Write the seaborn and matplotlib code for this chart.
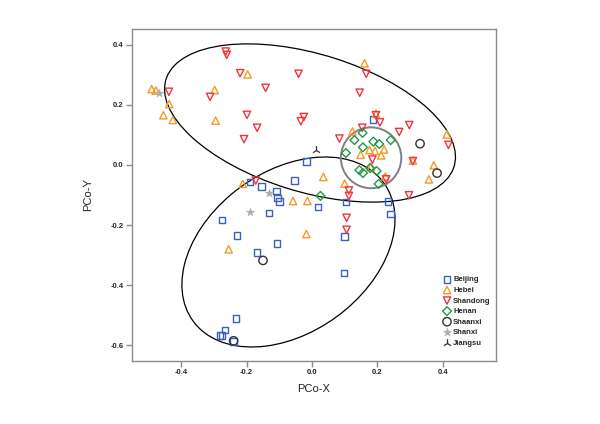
import matplotlib
matplotlib.use("Agg")
import matplotlib.pyplot as plt
from matplotlib.patches import Ellipse
import seaborn as sns


# PCo coordinates, one pair of lists per province
beijing_x = [0.187, -0.017, -0.054, 0.018, -0.190, -0.155, -0.108, -0.105, -0.099, -0.131,
             -0.276, -0.229, -0.107, -0.168, 0.104, 0.233, 0.240, 0.099, 0.098, -0.233,
             -0.267, -0.282, -0.275, -0.240]
beijing_y = [0.151, 0.012, -0.051, -0.140, -0.056, -0.071, -0.087, -0.110, -0.122, -0.160,
             -0.184, -0.235, -0.262, -0.291, -0.123, -0.122, -0.163, -0.238, -0.360, -0.512,
             -0.550, -0.569, -0.568, -0.588]

hebei_x = [-0.491, -0.478, -0.437, -0.455, -0.426, -0.298, -0.295, -0.197, 0.161, 0.196,
           0.124, 0.149, 0.176, 0.193, 0.221, 0.212, 0.180, 0.225, 0.413, 0.309,
           0.373, 0.358, 0.035, 0.100, -0.014, -0.058, -0.212, -0.017, -0.255]
hebei_y = [0.253, 0.248, 0.203, 0.166, 0.150, 0.250, 0.148, 0.302, 0.339, 0.170,
           0.112, 0.034, 0.050, 0.047, 0.052, 0.032, -0.007, -0.038, 0.102, 0.015,
           -0.001, -0.048, -0.040, -0.062, -0.120, -0.120, -0.063, -0.230, -0.281]

shandong_x = [-0.264, -0.261, -0.220, -0.041, -0.438, -0.312, -0.142, -0.199, -0.168, -0.208,
              -0.034, -0.025, 0.166, 0.146, 0.196, 0.208, 0.298, 0.267, 0.154, 0.084,
              0.185, 0.309, 0.418, 0.227, 0.113, 0.113, 0.297, 0.106, 0.106, -0.172]
shandong_y = [0.378, 0.367, 0.306, 0.304, 0.244, 0.227, 0.257, 0.167, 0.124, 0.086,
              0.146, 0.160, 0.304, 0.241, 0.166, 0.142, 0.133, 0.110, 0.124, 0.088,
              0.018, 0.013, 0.067, -0.048, -0.085, -0.103, -0.101, -0.176, -0.216, -0.052]

henan_x = [0.104, 0.130, 0.155, 0.188, 0.206, 0.241, 0.156, 0.145, 0.156, 0.178, 0.198, 0.204, 0.026]
henan_y = [0.040, 0.083, 0.107, 0.078, 0.070, 0.083, 0.059, -0.017, -0.027, -0.010, -0.020, -0.063, -0.103]

shaanxi_x = [0.331, 0.383, -0.150, -0.240]
shaanxi_y = [0.071, -0.027, -0.318, -0.586]

shanxi_x = [-0.469, -0.131, -0.190]
shanxi_y = [0.241, -0.093, -0.158]

jiangsu_x = [0.011]
jiangsu_y = [0.050]

# group ellipses: centre, width, height, angle (data units)
upper_ell = ((-0.006, 0.140), 0.929, 0.457, -19)
lower_ell = ((-0.072, -0.290), 0.746, 0.520, 42.5)
henan_ell = ((0.181, 0.024), 0.185, 0.203, 0)


sns.set_style("white")
plt.rcParams["font.family"] = ["Liberation Sans", "DejaVu Sans"]

fig = plt.figure(figsize=(6, 4.24), dpi=100)
ax = fig.add_axes([0.2195, 0.1493, 0.6072, 0.7823])

groups = [
    ("Beijing", beijing_x, beijing_y, "s", "#3f5fbf", 22, True),
    ("Hebei", hebei_x, hebei_y, "^", "#f59a23", 28, True),
    ("Shandong", shandong_x, shandong_y, "v", "#f2323f", 28, True),
    ("Henan", henan_x, henan_y, "D", "#1f9a45", 20, True),
    ("Shaanxi", shaanxi_x, shaanxi_y, "o", "#333333", 36, True),
    ("Shanxi", shanxi_x, shanxi_y, "*", "#adadad", 42, False),
    ("Jiangsu", jiangsu_x, jiangsu_y, "2", "#333333", 40, False),
]

for name, xs, ys, mk, col, size, hollow in groups:
    if hollow:
        sns.scatterplot(x=xs, y=ys, marker=mk, color=col, facecolor="none",
                        edgecolor=col, s=size, linewidth=1.0, label=name,
                        ax=ax, zorder=3)
    elif mk == "*":
        sns.scatterplot(x=xs, y=ys, marker=mk, color=col, edgecolor=col,
                        s=size, linewidth=0.3, label=name, ax=ax, zorder=3)
    else:
        sns.scatterplot(x=xs, y=ys, marker=mk, color=col, s=size,
                        linewidth=0.9, label=name, ax=ax, zorder=3)

for (cx, cy), w, h, ang in [upper_ell, lower_ell]:
    ax.add_patch(Ellipse((cx, cy), w, h, angle=ang, fill=False,
                         edgecolor="black", linewidth=0.9, zorder=2))
(cx, cy), w, h, ang = henan_ell
ax.add_patch(Ellipse((cx, cy), w, h, angle=ang, fill=False,
                     edgecolor="#808080", linewidth=1.4, zorder=2))

ax.set_xlim(-0.552, 0.5636)
ax.set_ylim(-0.6523, 0.4533)
ax.set_xticks([-0.4, -0.2, 0.0, 0.2, 0.4])
ax.set_yticks([-0.6, -0.4, -0.2, 0.0, 0.2, 0.4])
ax.set_xticklabels(["-0.4", "-0.2", "0.0", "0.2", "0.4"])
ax.set_yticklabels(["-0.6", "-0.4", "-0.2", "0.0", "0.2", "0.4"])

for sp in ax.spines.values():
    sp.set_color("#8c8c8c")
    sp.set_linewidth(1.0)

ax.tick_params(axis="both", direction="out", length=4, width=1, color="#8c8c8c",
               labelsize=5.5, pad=2, bottom=True, left=True)
for lab in ax.get_xticklabels() + ax.get_yticklabels():
    lab.set_fontweight("bold")

ax.set_xlabel("PCo-X", fontsize=8, color="#222222", labelpad=6)
ax.set_ylabel("PCo-Y", fontsize=8, color="#222222", labelpad=12)

leg = ax.legend(loc="upper left", bbox_to_anchor=(0.855, 0.255), frameon=False,
                fontsize=5.5, handletextpad=0.3, labelspacing=0.42,
                handlelength=1.0, borderpad=0, borderaxespad=0)
for t in leg.get_texts():
    t.set_fontweight("bold")

plt.savefig("out.png", dpi=100)
